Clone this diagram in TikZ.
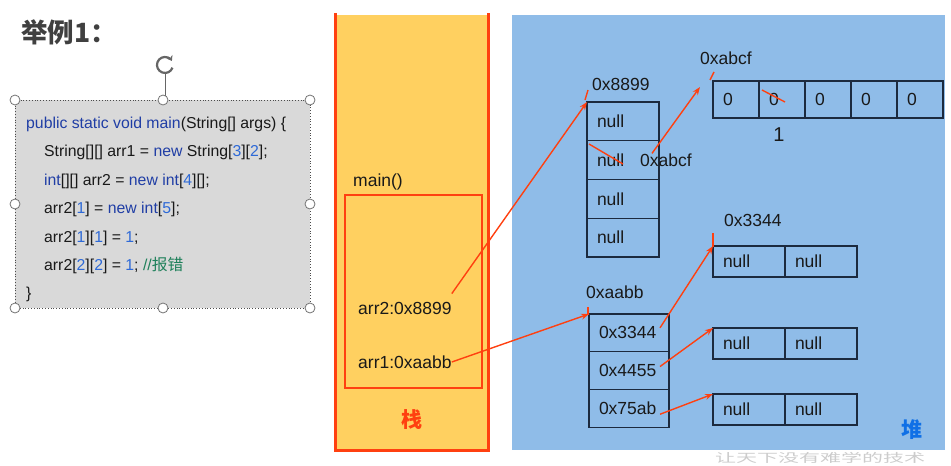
\documentclass[tikz,border=0pt]{standalone}
\usepackage{fontspec}
\setmainfont{Liberation Sans}
\newfontfamily\cjk{Noto Sans CJK SC}
\usetikzlibrary{positioning,arrows.meta}

\definecolor{ink}{RGB}{25,25,25}
\definecolor{stackfill}{RGB}{255,208,96}
\definecolor{stackred}{RGB}{255,64,16}
\definecolor{heapfill}{RGB}{143,188,232}
\definecolor{heapblue}{RGB}{16,112,230}
\definecolor{codegray}{RGB}{217,217,217}
\definecolor{kwblue}{RGB}{32,62,165}
\definecolor{numblue}{RGB}{45,105,215}
\definecolor{cmtgreen}{RGB}{30,128,90}
\definecolor{cellline}{RGB}{28,42,62}

\newcommand\kw[1]{\textcolor{kwblue}{#1}}
\newcommand\nb[1]{\textcolor{numblue}{#1}}

\tikzset{
  txt/.style={font=\fontsize{17.5}{20}\selectfont, text=ink, inner sep=0pt},
  codeline/.style={font=\fontsize{15.8}{18}\selectfont, text=ink, inner sep=0pt, anchor=base west},
  cell/.style={draw=cellline, line width=1.2pt, anchor=north west, inner xsep=10pt, outer sep=0pt,
    inner ysep=0pt, align=left, font=\fontsize{17.5}{20}\selectfont, text=ink},
  wide/.style={text width=52pt, minimum height=38.75pt},
  addr/.style={text width=60pt, minimum height=37.7pt},
  zero/.style={text width=26pt, minimum height=37pt},
  half/.style={text width=52pt, minimum height=31pt},
  handle/.style={circle, draw=black!55, fill=white, line width=0.8pt, minimum size=10pt, inner sep=0pt},
  redline/.style={draw=stackred, line width=1.4pt},
  redarrow/.style={redline, -{Stealth[length=8pt, width=6pt]}},
}

\begin{document}
\begin{tikzpicture}[x=1pt, y=-1pt]
  \useasboundingbox (0,0) rectangle (951,466);
  \clip (0,0) rectangle (951,466);

  % Title
  \node[anchor=west, inner sep=0pt, text=black!75, font=\cjk\bfseries\fontsize{26.5}{28}\selectfont] (title) at (21,32) {举例1：};

  % Code box with its handles
  \draw[black!60, line width=1pt] (165,74) -- (165,100);
  \draw[black!60, line width=2.2pt, -{Stealth[length=5pt, width=7pt]}] (172.5,67.7) arc (20:330:8);
  \draw[black!70, fill=codegray, dotted, line width=0.8pt] (15,100) rectangle (310,308);
  \foreach \hx/\hy in {15/100, 163/100, 310/100, 15/204, 310/204, 15/308, 163/308, 310/308}
    \node[handle] at (\hx,\hy) {};

  \node[codeline] (code1) at (26,128) {\kw{public static void main}(String[] args) \{};
  \node[codeline] (code2) at (44,156.5) {String[][] arr1 = \kw{new} String[\nb{3}][\nb{2}];};
  \node[codeline] (code3) at (44,185) {\kw{int}[][] arr2 = \kw{new int}[\nb{4}][];};
  \node[codeline] (code4) at (44,213.5) {arr2[\nb{1}] = \kw{new int}[\nb{5}];};
  \node[codeline] (code5) at (44,242) {arr2[\nb{1}][\nb{1}] = \nb{1};};
  \node[codeline] (code6) at (44,270.5) {arr2[\nb{2}][\nb{2}] = \nb{1}; \textcolor{cmtgreen}{//{\cjk 报错}}};
  \node[codeline] (code7) at (26,298) {\}};

  % Stack
  \fill[stackfill] (335,15) rectangle (488,450);
  \draw[stackred, line width=3pt] (335,13) -- (335,450) -- (488,450) -- (488,13);
  \node[draw=stackred, line width=1.5pt, minimum width=137pt, minimum height=193pt,
    anchor=north west, inner sep=0pt] (frame) at (344,194) {};
  \node[txt, anchor=west] (mainlbl) at (353,182) {main()};
  \node[txt, anchor=west] (arr2) at (358,308) {arr2:0x8899};
  \node[txt, anchor=west] (arr1) at (358,362) {arr1:0xaabb};
  \node[text=stackred, font=\cjk\bfseries\fontsize{21}{23}\selectfont, inner sep=0pt] (stacklbl) at (412,420) {栈};

  % Heap
  \fill[heapfill] (512,15) rectangle (945,450);
  \node[text=heapblue, font=\cjk\bfseries\fontsize{21}{23}\selectfont, inner sep=0pt] (heaplbl) at (912,430) {堆};

  % arr2 = new int[4][]
  \node[txt, anchor=west] (l8899) at (592,84) {0x8899};
  \node[cell, wide] (p1) at (587,102) {null};
  \foreach \i [remember=\i as \j (initially 1)] in {2,3,4}
    \node[cell, wide, below=0pt of p\j] (p\i) {null};
  \node[txt, anchor=west] (labcf) at (640,160) {0xabcf};

  % arr2[1] = new int[5]
  \node[txt, anchor=west] (tabcf) at (700,58) {0xabcf};
  \node[cell, zero] (z1) at (713,81) {0};
  \foreach \i [remember=\i as \j (initially 1)] in {2,...,5}
    \node[cell, zero, right=0pt of z\j] (z\i) {0};
  \node[text=ink, font=\fontsize{20}{22}\selectfont, inner sep=0pt] (one) at (779,135) {1};

  % arr1 = new String[3][2]
  \node[txt, anchor=west] (laabb) at (586,292) {0xaabb};
  \node[cell, addr] (q1) at (589,314) {0x3344};
  \node[cell, addr, below=0pt of q1] (q2) {0x4455};
  \node[cell, addr, below=0pt of q2] (q3) {0x75ab};

  \node[txt, anchor=west] (l3344) at (724,220) {0x3344};
  \foreach \r/\y in {a/246, b/328, c/394} {
    \node[cell, half] (\r1) at (713,\y) {null};
    \node[cell, half, right=0pt of \r1] (\r2) {null};
  };

  % Strikes and ticks
  \draw[redline] (589,144) -- (623,164);
  \draw[redline] (762,90) -- (785,102);
  \draw[redline] (585,100) -- (588,90);
  \draw[redline] (710,80) -- (714,72);
  \draw[redline] (713,247) -- (713,233);
  \draw[redline] (588,315) -- (588,307);

  % References
  \coordinate (abcfin) at (700,87);
  \draw[redarrow] ([yshift=8pt]arr2.north east) -- (p1.north west);
  \draw[redarrow] (arr1.east) -- (q1.north west);
  \draw[redarrow] ([xshift=12pt]labcf.north west) -- (abcfin);
  \draw[redarrow] ([xshift=-9pt, yshift=5pt]q1.east) -- (a1.north west);
  \draw[redarrow] ([xshift=-9pt, yshift=4pt]q2.east) -- (b1.north west);
  \draw[redarrow] ([xshift=-9pt, yshift=-6pt]q3.east) -- (c1.north west);

  % Watermark
  \node[anchor=north west, inner sep=0pt, text=black!20, font=\cjk\fontsize{12}{13}\selectfont] (mark) at (715,452) {\scalebox{1.75}[1]{让天下没有难学的技术}};
\end{tikzpicture}
\end{document}
